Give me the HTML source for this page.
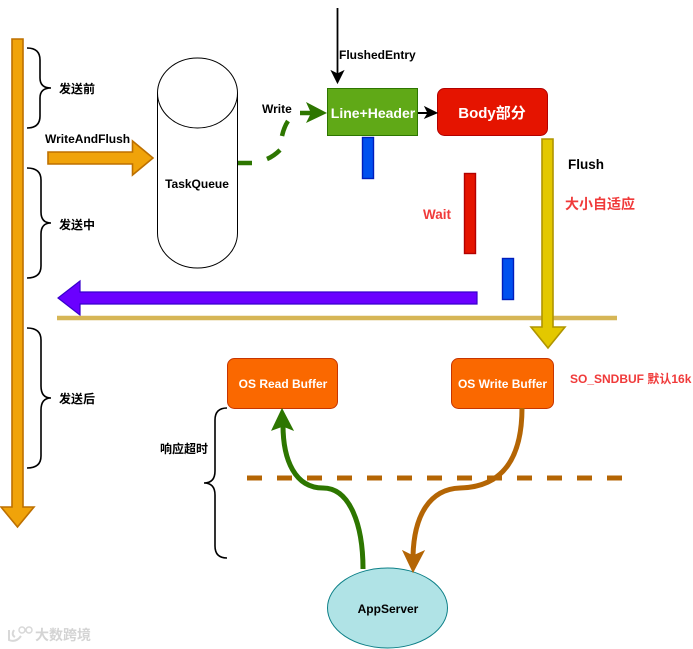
<!DOCTYPE html>
<html><head><meta charset="utf-8"><style>html,body{margin:0;padding:0;background:#fff}svg{display:block}text{font-family:"Liberation Sans","Noto Sans CJK SC",sans-serif;font-weight:bold}</style></head>
<body><svg width="693" height="649" viewBox="0 0 693 649" xmlns="http://www.w3.org/2000/svg">
<path d="M12 39H23V507H34L17.500 527L1 507H12Z" fill="#f0a30a" stroke="#bd7000" stroke-width="1.600"/>
<g fill="none" stroke="#000" stroke-width="1.600">
<path d="M27 48Q40 48 40 60V78Q40 88 51 88Q40 88 40 98V116Q40 128 27 128"/>
<path d="M27 168Q41 168 41 180V212Q41 223 51 223Q41 223 41 234V266Q41 278 27 278"/>
<path d="M27 328Q41 328 41 340V386Q41 398 51 398Q41 398 41 410V456Q41 468 27 468"/>
<path d="M227 408Q215 408 215 420V471Q215 483 204 483Q215 483 215 495V546Q215 558 227 558"/>
</g>
<path d="M48 152H132.500V141L153 158L132.500 175V164H48Z" fill="#f0a30a" stroke="#bd7000" stroke-width="1.600"/>
<path d="M157.500 93A40 35 0 0 1 237.500 93V233A40 35 0 0 1 157.500 233Z" fill="#fff" stroke="#000" stroke-width="1"/>
<path d="M157.500 93A40 35 0 0 0 237.500 93" fill="none" stroke="#000" stroke-width="1"/>
<g fill="none" stroke="#2d7600" stroke-width="4.500">
<path d="M238 163H252"/>
<path d="M267 159Q274 156 280 150"/>
<path d="M282 136Q284 127 288 121"/>
<path d="M300 113H312"/>
</g>
<path d="M327 113L306 123L311 113L306 102Z" fill="#2d7600"/>
<rect x="327.500" y="88.500" width="90" height="47" fill="#60a917" stroke="#2d7600"/>
<rect x="437.500" y="88.500" width="110" height="47" rx="7" fill="#e51400" stroke="#b20000"/>
<path d="M418 113H431" stroke="#000" stroke-width="2" fill="none"/>
<path d="M437 113L425 107L428 113L425 118Z" fill="#000" stroke="#000"/>
<path d="M337.500 8V75" stroke="#000" stroke-width="1.800" fill="none"/>
<path d="M337.500 83L331.500 71L337.500 74L343.500 71Z" fill="#000" stroke="#000"/>
<rect x="362.500" y="137.500" width="11" height="41" fill="#0050ef" stroke="#001dbc" stroke-width="1.400"/>
<rect x="464.500" y="173.500" width="11" height="80" fill="#e51400" stroke="#b20000" stroke-width="1.400"/>
<rect x="502.500" y="258.500" width="11" height="41" fill="#0050ef" stroke="#001dbc" stroke-width="1.400"/>
<path d="M477 292H80V281L58 298L80 315V304H477Z" fill="#6a00ff" stroke="#3700cc" stroke-width="1.200"/>
<path d="M57 318H617" stroke="#d6b656" stroke-width="4.500" fill="none"/>
<path d="M542 139H553V327H565L548 348L531 327H542Z" fill="#e3c800" stroke="#b09500" stroke-width="1.600"/>
<rect x="227.500" y="358.500" width="110" height="50" rx="7" fill="#fa6800" stroke="#c73500"/>
<rect x="451.500" y="358.500" width="102" height="50" rx="7" fill="#fa6800" stroke="#c73500"/>
<path d="M247 478H623" stroke="#b46504" stroke-width="5" stroke-dasharray="15 15" fill="none"/>
<ellipse cx="387.500" cy="608" rx="60" ry="40" fill="#b0e3e6" stroke="#0e8088"/>
<path d="M363 569C363 525 350 488 323 488C295 488 283 460 283 425" fill="none" stroke="#2d7600" stroke-width="5"/>
<path d="M282 409L293 430L283 426L272 430Z" fill="#2d7600" stroke="#2d7600"/>
<path d="M522 408C522 455 505 487 460 488C430 489 414 515 413 556" fill="none" stroke="#b46504" stroke-width="5"/>
<path d="M413 572L403 551L413 556L424 551Z" fill="#b46504" stroke="#b46504"/>
<g font-size="12" fill="#000">
<text x="59" y="93">发送前</text>
<text x="59" y="229">发送中</text>
<text x="59" y="403">发送后</text>
<text x="160" y="453">响应超时</text>
<text x="45" y="143">WriteAndFlush</text>
<text x="197" y="188" text-anchor="middle">TaskQueue</text>
<text x="262" y="113">Write</text>
<text x="339" y="59">FlushedEntry</text>
<text x="568" y="169" font-size="13.500">Flush</text>
<text x="388" y="613" text-anchor="middle">AppServer</text>
</g>
<g fill="#fff" text-anchor="middle">
<text x="373" y="118" font-size="14">Line+Header</text>
<text x="492" y="118" font-size="15">Body部分</text>
<text x="283" y="388" font-size="12">OS Read Buffer</text>
<text x="502.500" y="388" font-size="12">OS Write Buffer</text>
</g>
<g fill="#f03a3a">
<text x="423" y="219" font-size="13.500">Wait</text>
<text x="565" y="209" font-size="14">大小自适应</text>
<text x="570" y="383" font-size="12">SO_SNDBUF 默认16k</text>
</g>
<text x="35" y="640" font-size="14" fill="#d4d4d4">大数跨境</text>
<path d="M9 630V640Q16 643 21 636M14 630Q11 635 15 637" fill="none" stroke="#d8d8d8" stroke-width="2"/>
<circle cx="22" cy="630" r="3" fill="none" stroke="#d8d8d8" stroke-width="1.500"/>
<circle cx="29" cy="630" r="3" fill="none" stroke="#d8d8d8" stroke-width="1.500"/>
</svg></body></html>
